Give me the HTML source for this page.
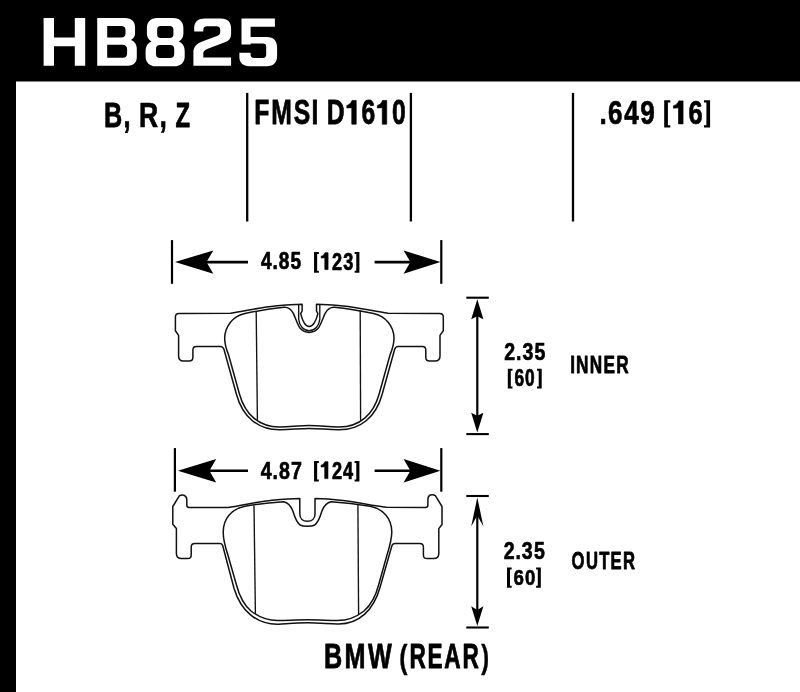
<!DOCTYPE html>
<html><head><meta charset="utf-8"><style>
html,body{margin:0;padding:0;background:#fff;width:800px;height:692px;overflow:hidden}
svg{display:block;will-change:transform}
text{font-family:"Liberation Sans",sans-serif;font-weight:bold;font-kerning:none}
</style></head><body>
<svg width="800" height="692" viewBox="0 0 800 692">
<rect x="0" y="0" width="800" height="81.5" fill="#000"/>
<rect x="0" y="0" width="16" height="692" fill="#000"/>
<path d="M43.6,17.9H54V37.6H74.8V17.9H85.2V65.7H74.8V46.2H54V65.7H43.6Z" fill="#fff" fill-rule="evenodd"/>
<path d="M97.2,17.9H125.3C131.2,17.9 135.05,21.5 135.05,27V33.5C135.05,36.3 133.6,38.6 130.8,40C134.6,41.5 136.8,44.2 136.8,49V57.5C136.8,62.6 133,65.7 128,65.7H97.2Z M107.2,26.1V37.4H121.5C124,37.4 125.5,36 125.5,33.5V30C125.5,27.5 124,26.1 121.5,26.1Z M107.2,44.7V57.7H122.6C125.6,57.7 127.1,56.2 127.1,53.2V49.2C127.1,46.2 125.6,44.7 122.6,44.7Z" fill="#fff" fill-rule="evenodd"/>
<path d="M157,18.1H173.6C179.5,18.1 183.4,22 183.4,28V33.5C183.4,37 181.8,39.8 178.8,41.4C182.6,43 184.7,46.2 184.7,51V56.4C184.7,62.4 180.5,66.2 174.6,66.2H155.7C149.8,66.2 145.6,62.4 145.6,56.4V51C145.6,46.2 147.7,43 151.5,41.4C148.5,39.8 146.9,37 146.9,33.5V28C146.9,22 150.8,18.1 157,18.1Z M160.7,26.1H169.7C172.2,26.1 173.4,27.3 173.4,29.8V34.2C173.4,36.7 172.2,38 169.7,38H160.7C158.2,38 157.2,36.7 157.2,34.2V29.8C157.2,27.3 158.2,26.1 160.7,26.1Z M160.2,44.9H170C172.9,44.9 174.2,46.2 174.2,49.1V53.7C174.2,56.6 172.9,57.9 170,57.9H160.2C157.3,57.9 156,56.6 156,53.7V49.1C156,46.2 157.3,44.9 160.2,44.9Z" fill="#fff" fill-rule="evenodd"/>
<path d="M194.2,31.5V28C194.2,21.5 198.5,18.5 205,18.5H221C227.5,18.5 231.1,22 231.1,28.5V34C231.1,38 229.3,40.5 225.5,42L207.8,48.8C204.6,50 203.3,51.2 203.3,53.5V57.5H231.1V65.7H193.4V52.5C193.4,47 196.2,43.8 202.8,41.3L217,36C219.3,35.1 220.2,34 220.2,32V30C220.2,27.5 219,26.3 216.5,26.3H207C204.5,26.3 203.3,27.5 203.3,30V31.5Z" fill="#fff" fill-rule="evenodd"/>
<path d="M241.5,18.5H274.9V26.7H250.6V37.1H267C273.5,37.1 277.1,41 277.1,47.5V56C277.1,62.5 273.5,66.2 267,66.2H249.5C243,66.2 239.4,62.5 239.4,57.5V52.7H250.6V54.5C250.6,56.9 251.6,57.9 254,57.9H262.8C265.2,57.9 266.2,56.9 266.2,54.5V47C266.2,44.6 265.2,43.6 262.8,43.6H250.6V44.5H241.5Z" fill="#fff" fill-rule="evenodd"/>
<text x="-37.18" transform="translate(113.28,127.31) scale(0.2525,0.3462)" font-size="100" fill="#000" stroke="#000" stroke-width="2.178" stroke-linejoin="round">B</text>
<text x="-13.94" transform="translate(127.02,127.31) scale(0.2525,0.3462)" font-size="100" fill="#000" stroke="#000" stroke-width="2.178" stroke-linejoin="round">,</text>
<text x="-38.43" transform="translate(149.08,127.33) scale(0.2649,0.3468)" font-size="100" fill="#000" stroke="#000" stroke-width="2.076" stroke-linejoin="round">R</text>
<text x="-13.94" transform="translate(163.13,127.33) scale(0.2649,0.3468)" font-size="100" fill="#000" stroke="#000" stroke-width="2.076" stroke-linejoin="round">,</text>
<text x="-30.59" transform="translate(182.85,127.29) scale(0.2381,0.3456)" font-size="100" fill="#000" stroke="#000" stroke-width="2.310" stroke-linejoin="round">Z</text>
<text x="-32.06" transform="translate(262.05,124.20) scale(0.2472,0.3453)" font-size="100" fill="#000" stroke="#000" stroke-width="2.225" stroke-linejoin="round">F</text>
<text x="-41.65" transform="translate(281.46,124.20) scale(0.2472,0.3453)" font-size="100" fill="#000" stroke="#000" stroke-width="2.225" stroke-linejoin="round">M</text>
<text x="-32.84" transform="translate(301.93,124.20) scale(0.2472,0.3453)" font-size="100" fill="#000" stroke="#000" stroke-width="2.225" stroke-linejoin="round">S</text>
<text x="-13.89" transform="translate(315.04,124.20) scale(0.2472,0.3453)" font-size="100" fill="#000" stroke="#000" stroke-width="2.225" stroke-linejoin="round">I</text>
<text x="-37.35" transform="translate(335.94,124.20) scale(0.2468,0.3453)" font-size="100" fill="#000" stroke="#000" stroke-width="2.229" stroke-linejoin="round">D</text>
<path transform="translate(351.53,124.20) scale(0.2468,0.3453) translate(-22.00,0)" d="M41,0H23V-48C17,-47.6 10,-47.2 3,-47V-54.5C13,-56 20,-61 24,-68.8H41Z" fill="#000" stroke="#000" stroke-width="2.229" stroke-linejoin="round"/>
<text x="-27.83" transform="translate(368.38,124.20) scale(0.2468,0.3453)" font-size="100" fill="#000" stroke="#000" stroke-width="2.229" stroke-linejoin="round">6</text>
<path transform="translate(382.03,124.20) scale(0.2468,0.3453) translate(-22.00,0)" d="M41,0H23V-48C17,-47.6 10,-47.2 3,-47V-54.5C13,-56 20,-61 24,-68.8H41Z" fill="#000" stroke="#000" stroke-width="2.229" stroke-linejoin="round"/>
<text x="-27.73" transform="translate(398.86,124.20) scale(0.2468,0.3453)" font-size="100" fill="#000" stroke="#000" stroke-width="2.229" stroke-linejoin="round">0</text>
<text x="-13.84" transform="translate(603.22,123.89) scale(0.2608,0.3332)" font-size="100" fill="#000" stroke="#000" stroke-width="2.109" stroke-linejoin="round">.</text>
<text x="-27.83" transform="translate(615.32,123.89) scale(0.2608,0.3332)" font-size="100" fill="#000" stroke="#000" stroke-width="2.109" stroke-linejoin="round">6</text>
<text x="-28.30" transform="translate(631.57,123.89) scale(0.2608,0.3332)" font-size="100" fill="#000" stroke="#000" stroke-width="2.109" stroke-linejoin="round">4</text>
<text x="-27.69" transform="translate(647.51,123.89) scale(0.2608,0.3332)" font-size="100" fill="#000" stroke="#000" stroke-width="2.109" stroke-linejoin="round">9</text>
<path d="M664.2,100.2H670.3000000000001V102.5H667.9000000000001V125.15H670.3000000000001V127.45H664.2Z" fill="#000"/>
<path transform="translate(678.25,123.88) scale(0.2539,0.3343) translate(-22.00,0)" d="M41,0H23V-48C17,-47.6 10,-47.2 3,-47V-54.5C13,-56 20,-61 24,-68.8H41Z" fill="#000" stroke="#000" stroke-width="2.166" stroke-linejoin="round"/>
<text x="-27.83" transform="translate(695.59,123.88) scale(0.2539,0.3343)" font-size="100" fill="#000" stroke="#000" stroke-width="2.166" stroke-linejoin="round">6</text>
<path d="M710.1,100.2H704.0V102.5H706.4V125.15H704.0V127.45H710.1Z" fill="#000"/>
<line x1="247.2" y1="92.9" x2="247.2" y2="221.5" stroke="#000" stroke-width="2.3"/>
<line x1="410.9" y1="92.9" x2="410.9" y2="221.5" stroke="#000" stroke-width="2.3"/>
<line x1="573.0" y1="92.9" x2="573.0" y2="221.5" stroke="#000" stroke-width="2.3"/>
<line x1="172.0" y1="240.1" x2="172.0" y2="283.8" stroke="#000" stroke-width="2.2"/>
<line x1="441.3" y1="240.1" x2="441.3" y2="283.8" stroke="#000" stroke-width="2.2"/>
<path d="M175.0,262.1 L213.3,250.40000000000003 L206.5,262.1 L213.3,273.8 Z" fill="#000"/>
<path d="M440.40000000000003,262.1 L403.6,250.40000000000003 L410.40000000000003,262.1 L403.6,273.8 Z" fill="#000"/>
<line x1="205.5" y1="262.1" x2="248" y2="262.1" stroke="#000" stroke-width="2.6"/>
<line x1="374.6" y1="262.1" x2="410.90000000000003" y2="262.1" stroke="#000" stroke-width="2.6"/>
<text x="-28.30" transform="translate(266.44,269.39) scale(0.1910,0.2374)" font-size="100" fill="#000" stroke="#000" stroke-width="2.879" stroke-linejoin="round">4</text>
<text x="-13.84" transform="translate(275.18,269.39) scale(0.1910,0.2374)" font-size="100" fill="#000" stroke="#000" stroke-width="2.879" stroke-linejoin="round">.</text>
<text x="-27.86" transform="translate(284.05,269.39) scale(0.1910,0.2374)" font-size="100" fill="#000" stroke="#000" stroke-width="2.879" stroke-linejoin="round">8</text>
<text x="-27.95" transform="translate(295.87,269.39) scale(0.1910,0.2374)" font-size="100" fill="#000" stroke="#000" stroke-width="2.879" stroke-linejoin="round">5</text>
<path d="M314.05,252.05H318.85V254.05H317.15000000000003V270.7H318.85V272.7H314.05Z" fill="#000"/>
<path transform="translate(324.63,269.61) scale(0.1816,0.2459) translate(-22.00,0)" d="M41,0H23V-48C17,-47.6 10,-47.2 3,-47V-54.5C13,-56 20,-61 24,-68.8H41Z" fill="#000" stroke="#000" stroke-width="3.028" stroke-linejoin="round"/>
<text x="-27.54" transform="translate(336.97,269.61) scale(0.1816,0.2459)" font-size="100" fill="#000" stroke="#000" stroke-width="3.028" stroke-linejoin="round">2</text>
<text x="-27.15" transform="translate(348.11,269.61) scale(0.1816,0.2459)" font-size="100" fill="#000" stroke="#000" stroke-width="3.028" stroke-linejoin="round">3</text>
<path d="M359.4,252.05H354.59999999999997V254.05H356.29999999999995V270.7H354.59999999999997V272.7H359.4Z" fill="#000"/>
<line x1="174.9" y1="448.1" x2="174.9" y2="491.7" stroke="#000" stroke-width="2.2"/>
<line x1="441.3" y1="448.1" x2="441.3" y2="491.7" stroke="#000" stroke-width="2.2"/>
<path d="M177.9,470.7 L216.2,459.0 L209.4,470.7 L216.2,482.4 Z" fill="#000"/>
<path d="M440.40000000000003,470.7 L403.6,459.0 L410.40000000000003,470.7 L403.6,482.4 Z" fill="#000"/>
<line x1="208.4" y1="470.7" x2="248" y2="470.7" stroke="#000" stroke-width="2.6"/>
<line x1="374.6" y1="470.7" x2="410.90000000000003" y2="470.7" stroke="#000" stroke-width="2.6"/>
<text x="-28.30" transform="translate(266.33,478.65) scale(0.1962,0.2426)" font-size="100" fill="#000" stroke="#000" stroke-width="2.803" stroke-linejoin="round">4</text>
<text x="-13.84" transform="translate(275.30,478.65) scale(0.1962,0.2426)" font-size="100" fill="#000" stroke="#000" stroke-width="2.803" stroke-linejoin="round">.</text>
<text x="-27.86" transform="translate(284.42,478.65) scale(0.1962,0.2426)" font-size="100" fill="#000" stroke="#000" stroke-width="2.803" stroke-linejoin="round">8</text>
<text x="-27.76" transform="translate(296.52,478.65) scale(0.1962,0.2426)" font-size="100" fill="#000" stroke="#000" stroke-width="2.803" stroke-linejoin="round">7</text>
<path d="M314.05,461.0H318.85V463.0H317.15000000000003V479.4H318.85V481.4H314.05Z" fill="#000"/>
<path transform="translate(324.53,478.61) scale(0.1817,0.2466) translate(-22.00,0)" d="M41,0H23V-48C17,-47.6 10,-47.2 3,-47V-54.5C13,-56 20,-61 24,-68.8H41Z" fill="#000" stroke="#000" stroke-width="3.027" stroke-linejoin="round"/>
<text x="-27.54" transform="translate(336.88,478.61) scale(0.1817,0.2466)" font-size="100" fill="#000" stroke="#000" stroke-width="3.027" stroke-linejoin="round">2</text>
<text x="-28.30" transform="translate(348.26,478.61) scale(0.1817,0.2466)" font-size="100" fill="#000" stroke="#000" stroke-width="3.027" stroke-linejoin="round">4</text>
<path d="M359.4,461.0H354.59999999999997V463.0H356.29999999999995V479.4H354.59999999999997V481.4H359.4Z" fill="#000"/>
<line x1="466.3" y1="297.7" x2="488.8" y2="297.7" stroke="#000" stroke-width="2.1"/>
<line x1="466.3" y1="434.1" x2="488.8" y2="434.1" stroke="#000" stroke-width="2.1"/>
<path d="M477.3,299.2 L483.40000000000003,319.2 L477.3,316.2 L471.2,319.2 Z" fill="#000"/>
<path d="M477.3,432.6 L483.40000000000003,412.7 L477.3,415.8 L471.2,412.7 Z" fill="#000"/>
<line x1="477.3" y1="315.2" x2="477.3" y2="416.8" stroke="#000" stroke-width="2.2"/>
<line x1="466.3" y1="496.0" x2="488.8" y2="496.0" stroke="#000" stroke-width="2.1"/>
<line x1="466.3" y1="627.5" x2="488.8" y2="627.5" stroke="#000" stroke-width="2.1"/>
<path d="M477.3,497.5 L483.40000000000003,526.4 L477.3,515.5 L471.2,526.4 Z" fill="#000"/>
<path d="M477.3,626.0 L483.40000000000003,606.2 L477.3,610.1 L471.2,606.2 Z" fill="#000"/>
<line x1="477.3" y1="514.5" x2="477.3" y2="611.1" stroke="#000" stroke-width="2.2"/>
<text x="-27.54" transform="translate(509.68,360.35) scale(0.1955,0.2392)" font-size="100" fill="#000" stroke="#000" stroke-width="2.814" stroke-linejoin="round">2</text>
<text x="-13.84" transform="translate(518.78,360.35) scale(0.1955,0.2392)" font-size="100" fill="#000" stroke="#000" stroke-width="2.814" stroke-linejoin="round">.</text>
<text x="-27.15" transform="translate(527.71,360.35) scale(0.1955,0.2392)" font-size="100" fill="#000" stroke="#000" stroke-width="2.814" stroke-linejoin="round">3</text>
<text x="-27.95" transform="translate(539.96,360.35) scale(0.1955,0.2392)" font-size="100" fill="#000" stroke="#000" stroke-width="2.814" stroke-linejoin="round">5</text>
<path d="M507.8,368.8H512.5V370.8H510.8V386.5H512.5V388.5H507.8Z" fill="#000"/>
<text x="-27.83" transform="translate(519.25,386.11) scale(0.1728,0.2311)" font-size="100" fill="#000" stroke="#000" stroke-width="3.182" stroke-linejoin="round">6</text>
<text x="-27.73" transform="translate(529.91,386.11) scale(0.1728,0.2311)" font-size="100" fill="#000" stroke="#000" stroke-width="3.182" stroke-linejoin="round">0</text>
<path d="M541.7,368.8H537.0V370.8H538.7V386.5H537.0V388.5H541.7Z" fill="#000"/>
<text x="-13.89" transform="translate(572.61,373.19) scale(0.1720,0.2467)" font-size="100" fill="#000" stroke="#000" stroke-width="3.197" stroke-linejoin="round">I</text>
<text x="-36.08" transform="translate(582.17,373.19) scale(0.1720,0.2467)" font-size="100" fill="#000" stroke="#000" stroke-width="3.197" stroke-linejoin="round">N</text>
<text x="-36.08" transform="translate(595.97,373.19) scale(0.1720,0.2467)" font-size="100" fill="#000" stroke="#000" stroke-width="3.197" stroke-linejoin="round">N</text>
<text x="-34.74" transform="translate(609.51,373.19) scale(0.1720,0.2467)" font-size="100" fill="#000" stroke="#000" stroke-width="3.197" stroke-linejoin="round">E</text>
<text x="-38.43" transform="translate(622.97,373.19) scale(0.1720,0.2467)" font-size="100" fill="#000" stroke="#000" stroke-width="3.197" stroke-linejoin="round">R</text>
<text x="-27.54" transform="translate(509.08,559.44) scale(0.1955,0.2447)" font-size="100" fill="#000" stroke="#000" stroke-width="2.814" stroke-linejoin="round">2</text>
<text x="-13.84" transform="translate(518.18,559.44) scale(0.1955,0.2447)" font-size="100" fill="#000" stroke="#000" stroke-width="2.814" stroke-linejoin="round">.</text>
<text x="-27.15" transform="translate(527.11,559.44) scale(0.1955,0.2447)" font-size="100" fill="#000" stroke="#000" stroke-width="2.814" stroke-linejoin="round">3</text>
<text x="-27.95" transform="translate(539.36,559.44) scale(0.1955,0.2447)" font-size="100" fill="#000" stroke="#000" stroke-width="2.814" stroke-linejoin="round">5</text>
<path d="M507.0,567.5H511.7V569.5H510.0V585.7H511.7V587.7H507.0Z" fill="#000"/>
<text x="-27.83" transform="translate(518.78,585.10) scale(0.1865,0.2285)" font-size="100" fill="#000" stroke="#000" stroke-width="2.949" stroke-linejoin="round">6</text>
<text x="-27.73" transform="translate(530.29,585.10) scale(0.1865,0.2285)" font-size="100" fill="#000" stroke="#000" stroke-width="2.949" stroke-linejoin="round">0</text>
<path d="M540.8,567.5H536.0999999999999V569.5H537.8V585.7H536.0999999999999V587.7H540.8Z" fill="#000"/>
<text x="-38.84" transform="translate(578.05,568.79) scale(0.1661,0.2338)" font-size="100" fill="#000" stroke="#000" stroke-width="3.310" stroke-linejoin="round">O</text>
<text x="-36.06" transform="translate(591.89,568.79) scale(0.1661,0.2338)" font-size="100" fill="#000" stroke="#000" stroke-width="3.310" stroke-linejoin="round">U</text>
<text x="-30.57" transform="translate(604.21,568.79) scale(0.1661,0.2338)" font-size="100" fill="#000" stroke="#000" stroke-width="3.310" stroke-linejoin="round">T</text>
<text x="-34.74" transform="translate(616.26,568.79) scale(0.1661,0.2338)" font-size="100" fill="#000" stroke="#000" stroke-width="3.310" stroke-linejoin="round">E</text>
<text x="-38.43" transform="translate(629.25,568.79) scale(0.1661,0.2338)" font-size="100" fill="#000" stroke="#000" stroke-width="3.310" stroke-linejoin="round">R</text>
<text x="-37.18" transform="translate(333.45,668.41) scale(0.2518,0.3462)" font-size="100" fill="#000" stroke="#000" stroke-width="2.184" stroke-linejoin="round">B</text>
<text x="-41.65" transform="translate(354.91,668.41) scale(0.2518,0.3462)" font-size="100" fill="#000" stroke="#000" stroke-width="2.184" stroke-linejoin="round">M</text>
<text x="-47.19" transform="translate(379.77,668.41) scale(0.2518,0.3462)" font-size="100" fill="#000" stroke="#000" stroke-width="2.184" stroke-linejoin="round">W</text>
<text transform="translate(399.21,667.94) scale(0.2480,0.3304)" font-size="100" fill="#000" stroke="#000" stroke-width="1.210" stroke-linejoin="round">(</text>
<text x="-38.43" transform="translate(418.14,668.26) scale(0.2256,0.3449)" font-size="100" fill="#000" stroke="#000" stroke-width="2.438" stroke-linejoin="round">R</text>
<text x="-34.74" transform="translate(435.32,668.26) scale(0.2256,0.3449)" font-size="100" fill="#000" stroke="#000" stroke-width="2.438" stroke-linejoin="round">E</text>
<text x="-36.04" transform="translate(452.36,668.26) scale(0.2256,0.3449)" font-size="100" fill="#000" stroke="#000" stroke-width="2.438" stroke-linejoin="round">A</text>
<text x="-38.43" transform="translate(471.06,668.26) scale(0.2256,0.3449)" font-size="100" fill="#000" stroke="#000" stroke-width="2.438" stroke-linejoin="round">R</text>
<text transform="translate(481.23,667.87) scale(0.2339,0.3333)" font-size="100" fill="#000" stroke="#000" stroke-width="1.283" stroke-linejoin="round">)</text>
<path d="M175.4,317 Q175.4,313.4 179,313.4 L230.6,313.2 C245,311 262,307.2 275,306 C285,305 295,304.3 302.1,304.2 L302.1,311 L300.7,313.6 C301.4,316.5 302.6,320.5 304.3,323.2 C305.8,325.5 307.5,326.6 309.2,326.6 C310.9,326.6 312.6,325.5 314.1,323.2 C315.8,320.5 317.2,316.5 317.9,313.6 L316.5,311 L316.5,304.2 C323.5,304.3 333.5,305 343.5,306 C356.5,307.2 373.5,311 388,313.2 L439.6,313.4 Q443.3,313.4 443.3,317 L443.3,330.8 L440,335.4 L440,356 Q440,361 435,361 L429.5,361 Q425.8,361 425.8,357.5 L425.8,350 Q425.8,346.5 422.3,346.5 L398,346.5 Q395.6,346.5 394.6,349.5 L382.1,394.5 C376,416.5 361,430 338.5,429.8 C326,429.4 318,428.4 309.3,428.4 C300.5,428.4 292.5,429.4 280,429.8 C257.6,430 242.6,416.5 236.5,394.5 L224.0,349.5 Q223.0,346.5 220.3,346.5 L196.3,346.5 Q192.9,346.5 192.9,350 L192.9,357.5 Q192.9,361 189.2,361 L183.6,361 Q178.6,361 178.6,356 L178.6,335.4 L175.4,330.8 Z" fill="none" stroke="#111" stroke-width="1.5" stroke-linejoin="round"/>
<path d="M228.6,355 C226.2,349 224.6,343 224.7,338 C225,326 233,316 245,313.5 C258,310.8 272,308.5 284,307.3 C288,307 291,309 293.5,313.6 C295.5,318 298,326 300.4,328.6 C303,331.5 306,332.4 309.2,332.4 C312.4,332.4 315.4,331.5 318,328.6 C320.4,326 323,318 325,313.6 C327.5,309 330.5,307 334.5,307.3 C346.5,308.5 360.5,310.8 373.5,313.5 C385.5,316 393.8,326 394,338 C394.1,343 392.4,349 390.0,355 L379.0,394.5 C373.5,414 360,427.2 338.5,427 C326,426.5 318,425.6 309.3,425.6 C300.5,425.6 292.5,426.5 280,427 C258.6,427.2 245.1,414 239.6,394.5 Z" fill="none" stroke="#111" stroke-width="1.5" stroke-linejoin="round"/>
<path d="M298.7,305 L298.7,319.4 C299.5,326 303.5,330.7 309.2,330.7 C314.9,330.7 319,326 319.8,319.4 L319.8,305" fill="none" stroke="#111" stroke-width="1.35" stroke-linejoin="round"/>
<path d="M256.2,311.5 L257.4,419.8" fill="none" stroke="#111" stroke-width="1.35" stroke-linejoin="round"/>
<path d="M360.2,310.2 L360.6,420.6" fill="none" stroke="#111" stroke-width="1.35" stroke-linejoin="round"/>
<path d="M172.8,524.3 L172.8,506.5 L179.3,495.8 Q182,494.6 184.5,495.5 Q186.8,497 186.8,499.5 L186.8,505 Q186.8,507.5 189.3,507.5 L228,507.6 C242,505.5 258,501.5 272,500.2 C282,499.3 292,498.6 299.8,498.5 L299.8,514 C299.8,518.5 303,521.3 307.4,521.3 C311.8,521.3 315,518.5 315,514 L315,498.5 C323,498.6 333,499.3 343,500.4 C357,502 372,505.5 386.5,507.3 L425.4,507.5 Q427.9,507.5 427.9,505 L427.9,499.5 Q428,496 430.3,495 Q433.5,494 435.5,495.8 L442,506.5 L442,524.5 L438.8,528.6 L438.8,553.6 Q438.8,558.6 433.8,558.6 L427,558.6 Q423.4,558.6 423.4,555 L423.4,547.2 Q423.4,543.6 419.8,543.6 L395,543.6 Q392.6,543.6 391.8,546 L380.0,587.5 C373.6,610 359,624.6 337.5,624 C325,623.5 317,622.8 307.4,622.8 C297.8,622.8 290,623.5 278.4,624.2 C256,624.8 240.5,610 234.0,588.2 L222.6,545.2 Q221.9,543.6 219.5,543.6 L194.8,543.6 Q191.2,543.6 191.2,547.2 L191.2,555 Q191.2,558.6 187.6,558.6 L181.4,558.6 Q176.4,558.6 176.4,553.6 L176.4,528.6 Z" fill="none" stroke="#111" stroke-width="1.5" stroke-linejoin="round"/>
<path d="M227.9,555 C225.2,547 223.2,539 223.2,532 C223.2,518 232,509 245,506.2 C258,504 271,502.5 283.7,501.7 C287.5,502.5 291.2,506 293.1,511.8 C295,518 297.5,523 300,525 C302,526 304.5,526.3 307.4,526.3 C310.3,526.3 312.8,526 314.8,525 C317.3,523 319.8,518 321.7,511.8 C323.6,506 327.3,502.5 331.1,501.7 C343.8,502.5 357,504 370,506.2 C383,509 391.8,518 391.8,532 C391.8,539 389.5,547 387.0,555 L378.6,585 C376.3,594 372,604 364,611 C355,618 345,620.6 337.5,620.6 C325,620.3 317,619.8 307.4,619.8 C297.8,619.8 290,620.3 277.3,620.6 C270,620.6 260,618 251,611 C243,604 238.8,594 236.5,585 Z" fill="none" stroke="#111" stroke-width="1.5" stroke-linejoin="round"/>
<path d="M254,505.4 L255.4,613.8" fill="none" stroke="#111" stroke-width="1.35" stroke-linejoin="round"/>
<path d="M357.9,504.6 L358.6,614.2" fill="none" stroke="#111" stroke-width="1.35" stroke-linejoin="round"/>
</svg>
</body></html>
